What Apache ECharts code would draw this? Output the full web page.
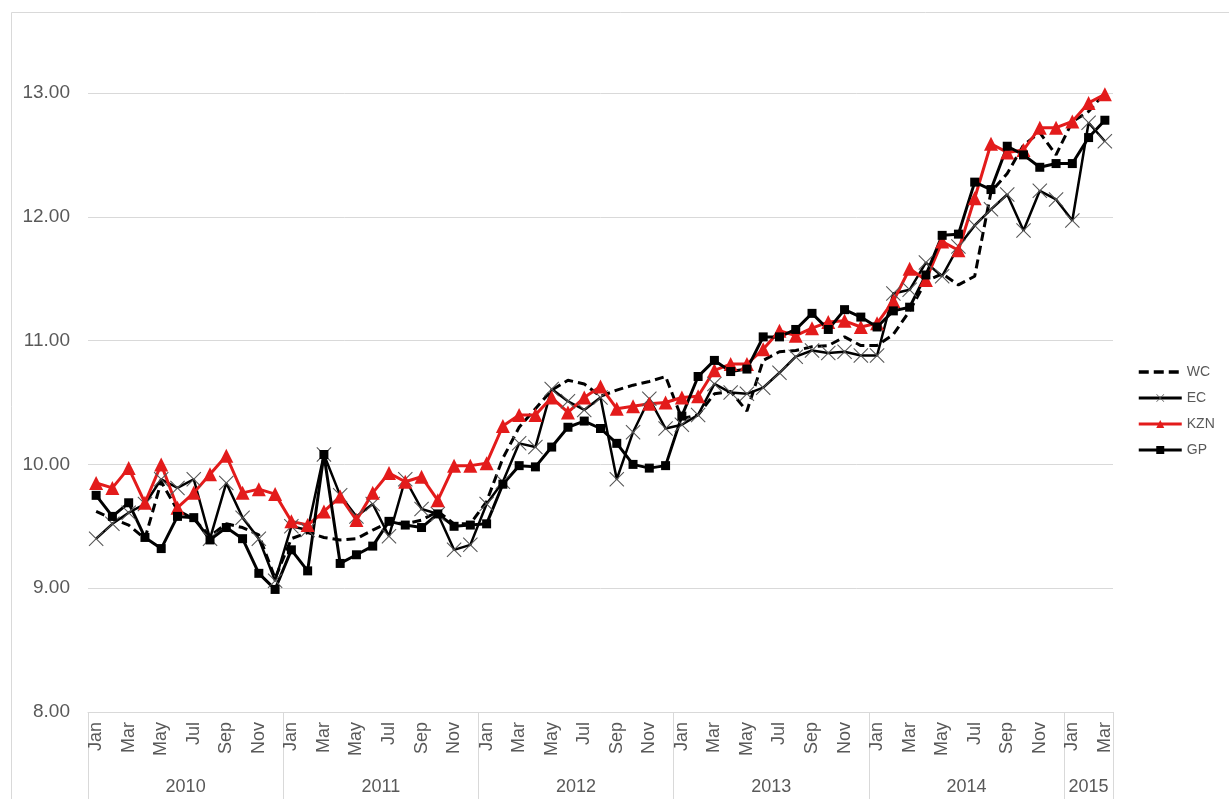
<!DOCTYPE html>
<html>
<head>
<meta charset="utf-8">
<script src="https://cdn.jsdelivr.net/npm/echarts@6/dist/echarts.min.js"></script>
<style>
html, body { margin: 0; padding: 0; background: #fff; }
#main { width: 1229px; height: 799px; }
</style>
</head>
<body>
<div id="main"></div>
<script>
// data
var years = ['2010', '2011', '2012', '2013', '2014', '2015'];
var monthNames = ['Jan', 'Feb', 'Mar', 'Apr', 'May', 'Jun', 'Jul', 'Aug', 'Sep', 'Oct', 'Nov', 'Dec'];
var monthsPerYear = [12, 12, 12, 12, 12, 3];
var yTicks = [8, 9, 10, 11, 12, 13];

var wc = [
	9.62, 9.56, 9.51, 9.40, 9.86, 9.63, 9.56, 9.42, 9.52, 9.49, 9.43, 9.08,
	9.40, 9.45, 9.41, 9.39, 9.40, 9.47, 9.53, 9.52, 9.55, 9.62, 9.52, 9.52,
	9.70, 10.05, 10.30, 10.45, 10.60, 10.68, 10.65, 10.55, 10.60, 10.64, 10.67, 10.71,
	10.37, 10.40, 10.57, 10.59, 10.43, 10.84, 10.91, 10.92, 10.95, 10.96, 11.03, 10.96,
	10.96, 11.05, 11.24, 11.48, 11.54, 11.45, 11.52, 12.20, 12.35, 12.58, 12.68, 12.50,
	12.77, 12.85, 13.00
];
var ec = [
	9.40, 9.52, 9.61, 9.68, 9.88, 9.81, 9.88, 9.40, 9.85, 9.57, 9.40, 9.06,
	9.50, 9.47, 10.08, 9.75, 9.58, 9.68, 9.42, 9.88, 9.64, 9.60, 9.31, 9.35,
	9.68, 9.86, 10.17, 10.14, 10.61, 10.51, 10.44, 10.54, 9.88, 10.26, 10.53, 10.29,
	10.32, 10.40, 10.65, 10.58, 10.57, 10.62, 10.74, 10.87, 10.92, 10.90, 10.91, 10.88,
	10.88, 11.38, 11.41, 11.63, 11.52, 11.76, 11.93, 12.06, 12.18, 11.89, 12.21, 12.14,
	11.97, 12.76, 12.61
];
var kzn = [
	9.85, 9.81, 9.97, 9.69, 10.00, 9.65, 9.77, 9.92, 10.07, 9.77, 9.80, 9.76,
	9.54, 9.51, 9.62, 9.74, 9.55, 9.77, 9.93, 9.86, 9.90, 9.71, 9.99, 9.99,
	10.01, 10.31, 10.40, 10.40, 10.54, 10.42, 10.54, 10.63, 10.45, 10.47, 10.49, 10.50,
	10.54, 10.55, 10.76, 10.81, 10.81, 10.93, 11.08, 11.04, 11.10, 11.15, 11.16, 11.11,
	11.14, 11.32, 11.58, 11.49, 11.80, 11.73, 12.15, 12.59, 12.52, 12.54, 12.72, 12.72,
	12.77, 12.92, 12.99
];
var gp = [
	9.75, 9.58, 9.69, 9.41, 9.32, 9.58, 9.57, 9.39, 9.49, 9.40, 9.12, 8.99,
	9.31, 9.14, 10.08, 9.20, 9.27, 9.34, 9.54, 9.51, 9.49, 9.60, 9.50, 9.51,
	9.52, 9.84, 9.99, 9.98, 10.14, 10.30, 10.35, 10.29, 10.17, 10.00, 9.97, 9.99,
	10.39, 10.71, 10.84, 10.75, 10.77, 11.03, 11.03, 11.09, 11.22, 11.09, 11.25, 11.19,
	11.11, 11.24, 11.27, 11.53, 11.85, 11.86, 12.28, 12.22, 12.57, 12.50, 12.40, 12.43,
	12.43, 12.64, 12.78
];

// month categories and the middle of every year (for the second label row)
var categories = [];
var yearCenters = [];
var start = 0;
for (var y = 0; y < years.length; y++) {
	for (var m = 0; m < monthsPerYear[y]; m++) {
		categories.push(monthNames[m]);
	}
	yearCenters.push(start + monthsPerYear[y] / 2);
	start += monthsPerYear[y];
}

var textColor = '#595959';
var gridColor = '#d9d9d9';
var fontName = 'Liberation Sans, Arial, sans-serif';
var crossPath = 'path://M0,1L1,0L10,9L19,0L20,1L11,10L20,19L19,20L10,11L1,20L0,19L9,10Z';

var myChart = echarts.init(document.getElementById('main'));
var option = {
	backgroundColor: '#fff',
	animation: false,
	textStyle: { fontFamily: fontName },
	graphic: [{
		type: 'rect',
		shape: { x: 11.5, y: 12.5, width: 1300, height: 900 },
		style: { fill: 'none', stroke: gridColor, lineWidth: 1 },
		silent: true
	}],
	grid: {
		left: 88,
		right: 116,
		top: 93,
		bottom: 87
	},
	legend: {
		orient: 'vertical',
		left: 1132,
		top: 360,
		itemWidth: 43,
		itemHeight: 10,
		itemGap: 12,
		lineStyle: { width: 3 },
		textStyle: { color: textColor, fontSize: 14, lineHeight: 12, fontFamily: fontName },
		// WC is a plain dashed line, so its legend marker is hidden
		data: [
			{ name: 'WC', itemStyle: { opacity: 0 }, lineStyle: { width: 3.5, type: [10, 5] } },
			'EC', 'KZN', 'GP'
		]
	},
	xAxis: [{
		type: 'category',
		data: categories,
		boundaryGap: true,
		axisLine: { lineStyle: { color: gridColor, width: 1 } },
		axisTick: {
			show: true,
			length: 87,
			interval: function(index) { return index % 12 === 0; },
			lineStyle: { color: gridColor }
		},
		axisLabel: {
			interval: 1,
			rotate: 90,
			margin: 10,
			color: textColor,
			fontSize: 18,
			fontFamily: fontName
		},
		splitLine: { show: false }
	}, {
		// second row: years, centred on their months
		type: 'value',
		position: 'bottom',
		min: 0,
		max: categories.length,
		interval: 1.5,
		offset: 58,
		axisLine: { show: false },
		axisTick: { show: false },
		splitLine: { show: false },
		axisLabel: {
			color: textColor,
			fontSize: 18,
			fontFamily: fontName,
			margin: 8,
			formatter: function(v) {
				for (var i = 0; i < yearCenters.length; i++) {
					if (Math.abs(v - yearCenters[i]) < 0.01) return years[i];
				}
				return '';
			}
		}
	}],
	yAxis: [{
		type: 'value',
		min: yTicks[0],
		max: yTicks[yTicks.length - 1],
		interval: 1,
		axisLine: { show: false },
		axisTick: { show: false },
		axisLabel: {
			color: textColor,
			fontSize: 19,
			fontFamily: fontName,
			margin: 18,
			formatter: function(v) { return v.toFixed(2); }
		},
		splitLine: { lineStyle: { color: gridColor, width: 1 } }
	}],
	series: [{
		name: 'WC',
		type: 'line',
		data: wc,
		symbol: 'circle',
		showSymbol: false,
		lineStyle: { color: '#000', width: 3, type: [9, 5] },
		itemStyle: { color: '#000' }
	}, {
		name: 'EC',
		type: 'line',
		data: ec,
		symbol: crossPath,
		symbolSize: 15,
		showAllSymbol: true,
		lineStyle: { color: '#000', width: 2.5 },
		itemStyle: { color: '#555' }
	}, {
		name: 'KZN',
		type: 'line',
		data: kzn,
		symbol: 'triangle',
		symbolSize: 14,
		showAllSymbol: true,
		lineStyle: { color: '#e31b1b', width: 3 },
		itemStyle: { color: '#e31b1b' }
	}, {
		name: 'GP',
		type: 'line',
		data: gp,
		symbol: 'rect',
		symbolSize: 9,
		showAllSymbol: true,
		lineStyle: { color: '#000', width: 3 },
		itemStyle: { color: '#000' }
	}]
};
myChart.setOption(option);
</script>
</body>
</html>
